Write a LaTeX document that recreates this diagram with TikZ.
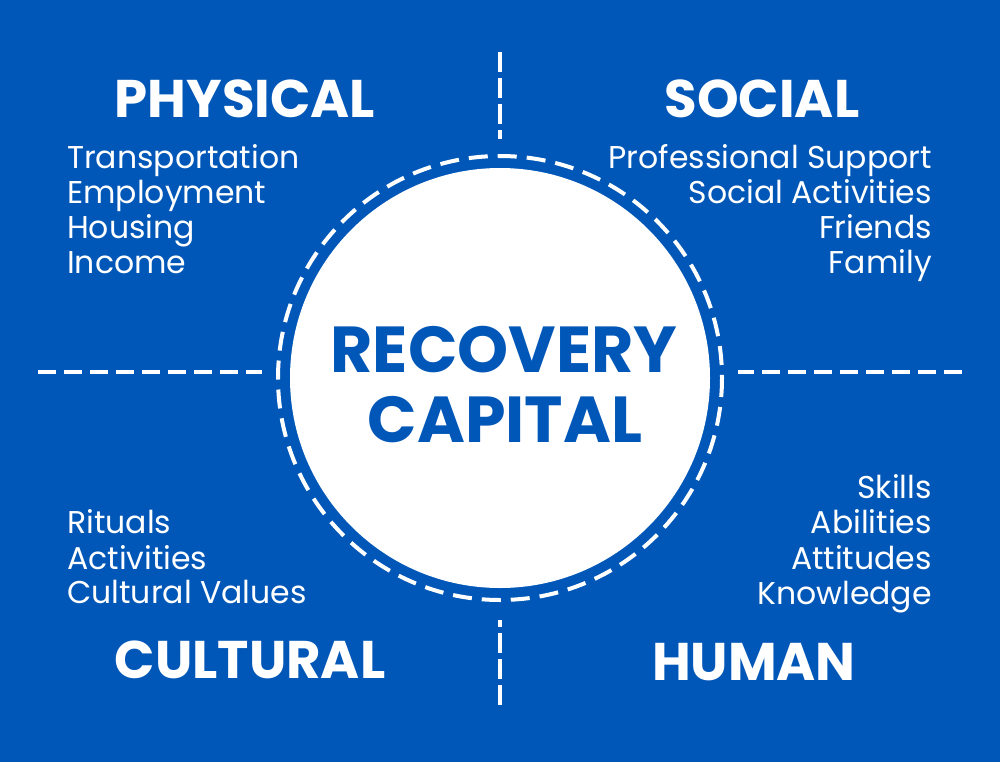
\documentclass[tikz,border=0pt]{standalone}
\usepackage{fontspec}
\setmainfont{Poppins}
\definecolor{bgblue}{HTML}{0057B8}
\begin{document}
\begin{tikzpicture}[x=1pt,y=-1pt,
  title/.style={text=white,font=\fontsize{53}{53}\selectfont\bfseries,inner sep=0pt,anchor=base},
  item/.style={text=white,font=\fontsize{31.5}{31.5}\selectfont,inner sep=0pt},
  center/.style={text=bgblue,font=\fontsize{65}{65}\selectfont\bfseries,inner sep=0pt,anchor=base},
  hdash/.style={draw=white,line width=4pt,dash pattern=on 18pt off 8pt},
  vdash/.style={draw=white,line width=4pt,dash pattern=on 20pt off 6pt},
  ring/.style={draw=white,line width=4pt,dash pattern=on 19pt off 10pt}]
\fill[bgblue] (0,0) rectangle (1000,762);
\useasboundingbox (0,0) rectangle (1000,762);
% circle
\node[circle,fill=white,minimum size=420pt,inner sep=0pt] (disc) at (500,378) {};
\draw[ring] (500,378) circle[radius=222];
% dashed separators
\coordinate (l1) at (38,372); \coordinate (l2) at (262,372);
\coordinate (r1) at (738,372); \coordinate (r2) at (962,372);
\coordinate (t1) at (500,52); \coordinate (t2) at (500,139);
\coordinate (b1) at (500,620); \coordinate (b2) at (500,705);
\draw[hdash] (l1) -- (l2);
\draw[hdash] (r2) -- (r1);
\draw[vdash] (t1) -- (t2);
\draw[vdash] (b2) -- (b1);
% center text
\node[center] (rec) at (504,372) {RECOVERY};
\node[center] (cap) at (505,442) {CAPITAL};
% titles
\node[title] (phys) at (245,118) {PHYSICAL};
\node[title] (soc) at (762,118) {SOCIAL};
\node[title] (cult) at (250,678) {CULTURAL};
\node[title] (hum) at (754,680) {HUMAN};
% physical list
\node[item,anchor=base west] (p1) at (67,168) {Transportation};
\node[item,anchor=base west] (p2) at (67,203) {Employment};
\node[item,anchor=base west] (p3) at (67,238) {Housing};
\node[item,anchor=base west] (p4) at (67,273) {Income};
% social list
\node[item,anchor=base east] (s1) at (932,168) {Professional Support};
\node[item,anchor=base east] (s2) at (932,203) {Social Activities};
\node[item,anchor=base east] (s3) at (932,238) {Friends};
\node[item,anchor=base east] (s4) at (932,273) {Family};
% cultural list
\node[item,anchor=base west] (c1) at (67,533) {Rituals};
\node[item,anchor=base west] (c2) at (67,569) {Activities};
\node[item,anchor=base west] (c3) at (67,603) {Cultural Values};
% human list
\node[item,anchor=base east] (h1) at (932,498) {Skills};
\node[item,anchor=base east] (h2) at (932,533) {Abilities};
\node[item,anchor=base east] (h3) at (932,569) {Attitudes};
\node[item,anchor=base east] (h4) at (932,604) {Knowledge};
\end{tikzpicture}
\end{document}
